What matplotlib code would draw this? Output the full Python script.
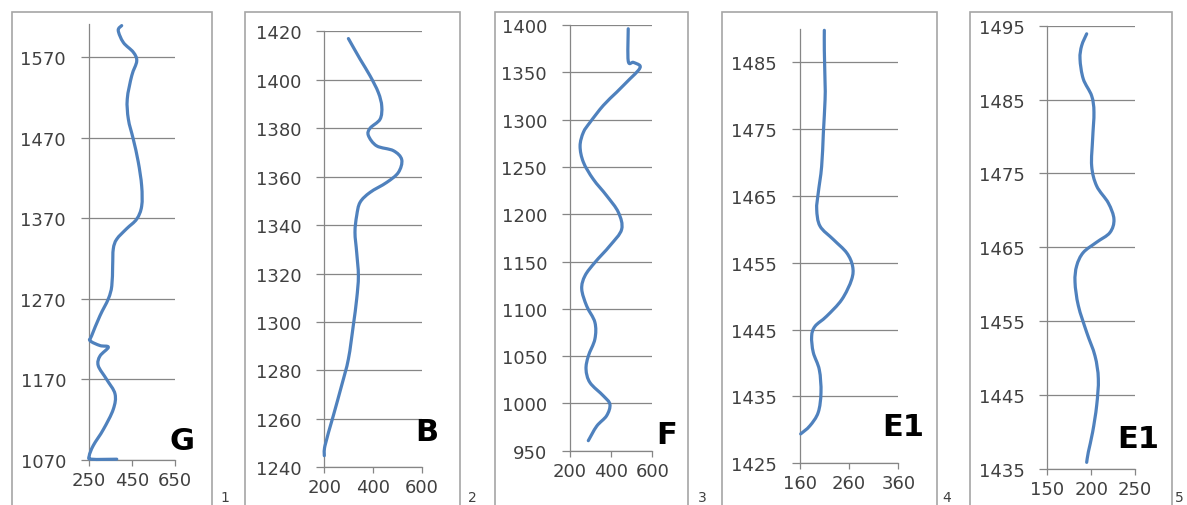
import matplotlib
matplotlib.use("Agg")
import matplotlib.pyplot as plt
from matplotlib.patches import Rectangle, PathPatch
from matplotlib.path import Path

W, H = 1187, 506

# ---- data (value, depth) ----
g_val = [402, 386, 410, 456, 472, 449, 428, 433, 456, 479, 495, 495, 472, 425, 379, 363,
         360, 356, 340, 301, 262, 255, 301, 340, 301, 293, 332, 371, 363, 317, 270, 251, 262, 379]
g_dep = [1609, 1603, 1588, 1576, 1565, 1547, 1518, 1493, 1468, 1440, 1410, 1385, 1369, 1357, 1344, 1332,
         1311, 1286, 1270, 1249, 1224, 1218, 1212, 1210, 1199, 1187, 1170, 1152, 1133, 1108, 1088, 1075, 1071, 1071]

b_val = [299, 347, 388, 422, 436, 429, 388, 381, 415, 484, 518, 504, 456, 388, 347, 333,
         326, 333, 340, 333, 319, 299, 271, 237, 203, 200]
b_dep = [1417, 1408.5, 1401.6, 1394.7, 1389, 1383.7, 1380, 1377, 1372.7, 1370.7, 1367, 1361.7, 1357.6, 1353.5, 1349.4, 1343.9,
         1337, 1328.7, 1319, 1309.5, 1298.5, 1284.7, 1273.7, 1261.3, 1249, 1244.8]

f_val = [483, 483, 508, 540, 532, 491, 427, 362, 297, 265, 249, 265, 313, 378, 435, 451,
         394, 321, 273, 257, 281, 321, 321, 289, 278, 297, 362, 394, 378, 330, 289]
f_dep = [1396, 1362, 1360.5, 1357, 1352, 1343, 1329, 1315, 1297, 1286.5, 1272, 1255, 1237, 1219.6, 1202, 1184,
         1166.7, 1149, 1135, 1121, 1103, 1085.7, 1068, 1050, 1036, 1022, 1008, 999, 987, 976, 960.6]

e1a_val = [209.5, 209.5, 211, 211, 207.5, 204, 197, 194, 200.7, 227.8, 255, 267, 265, 245, 214, 190.5,
           183.7, 187, 199.3, 202.7, 197, 180, 161.4]
e1a_dep = [1489.8, 1486.8, 1481.9, 1479.4, 1474.4, 1469.4, 1465.4, 1463, 1460.5, 1458.5, 1456.5, 1454.5, 1452.5, 1449.5, 1447, 1445.5,
           1444, 1441.6, 1439, 1435.6, 1432.6, 1430.6, 1429.4]

e1b_val = [194.9, 189.2, 187.3, 191, 200.6, 203.2, 201.7, 200.6, 206.3, 219.6, 226, 221.4, 206.3, 191, 183.5, 181.6,
           185.4, 194.9, 204.4, 208.2, 206.3, 201.7, 196.8, 194.9]
e1b_dep = [1493.9, 1492.3, 1490.5, 1487.8, 1485.5, 1483.3, 1479.7, 1476, 1473.3, 1471, 1468.8, 1467, 1465.7, 1464.3, 1462.5, 1460.3,
           1457.1, 1453.5, 1450.3, 1447.2, 1443.6, 1440, 1437.3, 1435.9]

names = ["G", "B", "F", "E1", "E1"]
numbers = ["1", "2", "3", "4", "5"]
xticks = [[250, 450, 650], [200, 400, 600], [200, 400, 600], [160, 260, 360], [150, 200, 250]]
yticks = [list(range(1070, 1571, 100)), list(range(1240, 1421, 20)), list(range(950, 1401, 50)),
          list(range(1425, 1486, 10)), list(range(1435, 1496, 10))]
ylims = [(1070, 1611), (1240, 1420), (950, 1400), (1425, 1490), (1435, 1495)]
series = [(g_val, g_dep), (b_val, b_dep), (f_val, f_dep), (e1a_val, e1a_dep), (e1b_val, e1b_dep)]

# ---- layout in pixels (left, right, top, bottom of the plot area) ----
areas = [(89, 175, 25, 461), (324.3, 421.7, 32.3, 468.3), (570, 652.3, 26, 451.7),
         (800, 898.3, 30, 464.3), (1047.3, 1135, 26.7, 470)]
boxes = [(12, 212), (245, 460), (495, 688), (721.7, 936.7), (970, 1171.7)]
name_pos = [(182, 442), (427, 433), (667, 435), (903, 428), (1138, 440)]
num_x = [225, 472, 702, 947, 1183]

line_c = "#4f81bd"
grid_c = "#868686"
text_c = "#404040"


def smooth_path(xs, ys):
    # excel-like smoothed line: bezier segments through the points
    pts = list(zip(xs, ys))
    verts = [pts[0]]
    codes = [Path.MOVETO]
    n = len(pts)
    for k in range(n - 1):
        p0 = pts[k - 1] if k > 0 else pts[k]
        p1 = pts[k]
        p2 = pts[k + 1]
        p3 = pts[k + 2] if k + 2 < n else pts[k + 1]
        c1 = (p1[0] + (p2[0] - p0[0]) / 6, p1[1] + (p2[1] - p0[1]) / 6)
        c2 = (p2[0] - (p3[0] - p1[0]) / 6, p2[1] - (p3[1] - p1[1]) / 6)
        verts += [c1, c2, p2]
        codes += [Path.CURVE4] * 3
    return Path(verts, codes)


fig = plt.figure(figsize=(W / 100, H / 100), dpi=100)
fig.patch.set_facecolor("white")

for i in range(5):
    x0, x1 = boxes[i]
    fig.add_artist(Rectangle((x0 / W, -0.05), (x1 - x0) / W, 1.05 - 13 / H,
                             transform=fig.transFigure, fill=False,
                             edgecolor="#a6a6a6", linewidth=1.2))

    l, r, t, b = areas[i]
    ax = fig.add_axes([l / W, (H - b) / H, (r - l) / W, (b - t) / H])
    vals, deps = series[i]
    ax.add_patch(PathPatch(smooth_path(vals, deps), facecolor="none", edgecolor=line_c,
                           linewidth=2.3, joinstyle="round", capstyle="round",
                           clip_on=False, zorder=3))

    ax.set_xlim(xticks[i][0], xticks[i][-1])
    ax.set_ylim(*ylims[i])
    ax.set_xticks(xticks[i])
    ax.set_yticks(yticks[i])
    ax.yaxis.grid(True, color=grid_c, linewidth=0.9)
    ax.set_axisbelow(True)
    for s in ["top", "right"]:
        ax.spines[s].set_visible(False)
    for s in ["left", "bottom"]:
        ax.spines[s].set_color(grid_c)
        ax.spines[s].set_linewidth(0.9)
    ax.tick_params(axis="y", direction="out", length=5.5, width=0.9, color=grid_c,
                   pad=11, labelsize=13, labelcolor=text_c)
    ax.tick_params(axis="x", direction="out", length=4, width=0.9, color=grid_c,
                   pad=4, labelsize=13, labelcolor=text_c)
    ax.patch.set_alpha(0)

    nx, ny = name_pos[i]
    fig.text(nx / W, 1 - ny / H, names[i], ha="center", va="center",
             fontsize=22, fontweight="bold", color="black")
    fig.text(min(num_x[i], 1179) / W, 1 / H, numbers[i], ha="center", va="bottom",
             fontsize=10, color=text_c)

fig.savefig("out.png", dpi=100)
